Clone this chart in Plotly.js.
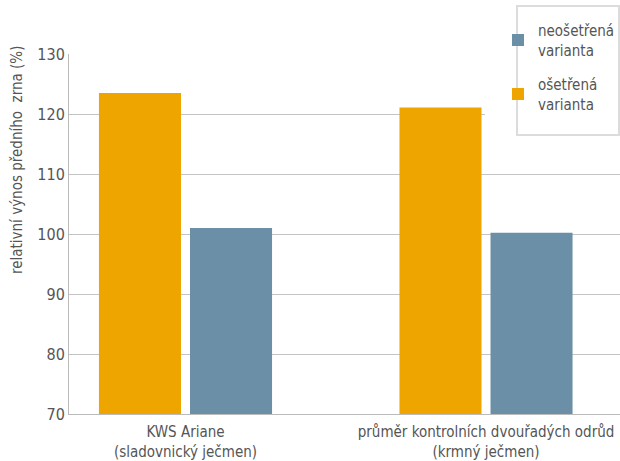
<!DOCTYPE html>
<html>
<head>
<meta charset="utf-8">
<script src="https://cdn.plot.ly/plotly-3.0.1.min.js"></script>
<style>html,body{margin:0;padding:0;background:#fff;}#chart{width:620px;height:461px;}</style>
</head>
<body>
<div id="chart"></div>
<script>
var categories = ["KWS Ariane<br>(sladovnický ječmen)", "průměr kontrolních dvouřadých odrůd<br>(krmný ječmen)"];
var treated = [123.5, 121.1];
var untreated = [101.0, 100.2];
var seriesNames = ["ošetřená<br>varianta", "neošetřená<br>varianta"];
var yTicks = [70, 80, 90, 100, 110, 120, 130];
var yTitle = "relativní výnos předního  zrna (%)";

var FONT = "'DejaVu Sans Condensed', 'Liberation Sans', sans-serif";
var TXT = '#555555';

var traces = [
  {type: 'bar', x: [0, 1], y: treated, name: seriesNames[0], legendgroup: 'b', legendrank: 2, marker: {color: '#EEA500'}, base: 70},
  {type: 'bar', x: [0, 1], y: untreated, name: seriesNames[1], legendgroup: 'a', legendrank: 1, marker: {color: '#6B8FA6'}, base: 70}
];
traces.forEach(function(t){ t.y = t.y.map(function(v){ return v - 70; }); });

function px(x){ return (x - 69) / 551; }
function py(y){ return (414 - y) / 360; }

var layout = {
  width: 620, height: 461,
  margin: {l: 69, r: 0, t: 54, b: 47},
  paper_bgcolor: '#fff', plot_bgcolor: '#fff',
  font: {family: FONT, size: 16, color: TXT},
  barmode: 'group', bargap: 0.394, bargroupgap: 0.099,
  showlegend: true,
  legend: {x: px(498), y: py(14), xanchor: 'left', yanchor: 'top', xref: 'paper', yref: 'paper',
           bgcolor: 'rgba(0,0,0,0)', borderwidth: 0, traceorder: 'grouped',
           font: {family: FONT, size: 15, color: TXT}, tracegroupgap: 12},
  xaxis: {range: [-0.3877, 1.4459], tickvals: [0, 1], ticktext: categories, showgrid: false,
          showline: true, linecolor: '#bbb', linewidth: 1, ticks: '', zeroline: false,
          ticklabeloverflow: 'allow', ticklabelstandoff: 4,
          tickfont: {family: FONT, size: 15, color: TXT}, fixedrange: true},
  yaxis: {range: [70, 130], tickvals: yTicks, showgrid: true, gridcolor: '#c4c4c4', gridwidth: 1,
          showline: true, linecolor: '#bbb', linewidth: 1, ticks: '', zeroline: false,
          tickfont: {family: FONT, size: 16, color: TXT}},
  annotations: [
    {text: yTitle, xref: 'paper', yref: 'paper', x: px(17), y: py(160), textangle: -90,
     showarrow: false, xanchor: 'center', yanchor: 'middle', font: {family: FONT, size: 15, color: TXT}}
  ],
  shapes: [
    {type: 'rect', xref: 'paper', yref: 'paper', layer: 'above',
     x0: px(485), x1: px(620), y0: py(136), y1: py(0),
     line: {width: 0}, fillcolor: '#ffffff'},
    {type: 'rect', xref: 'paper', yref: 'paper', layer: 'above',
     x0: px(517), x1: px(619), y0: py(135), y1: py(6),
     line: {color: '#dcdcdc', width: 2}, fillcolor: 'rgba(0,0,0,0)'}
  ]
};

Plotly.newPlot('chart', traces, layout, {staticPlot: true, displayModeBar: false});
</script>
</body>
</html>
